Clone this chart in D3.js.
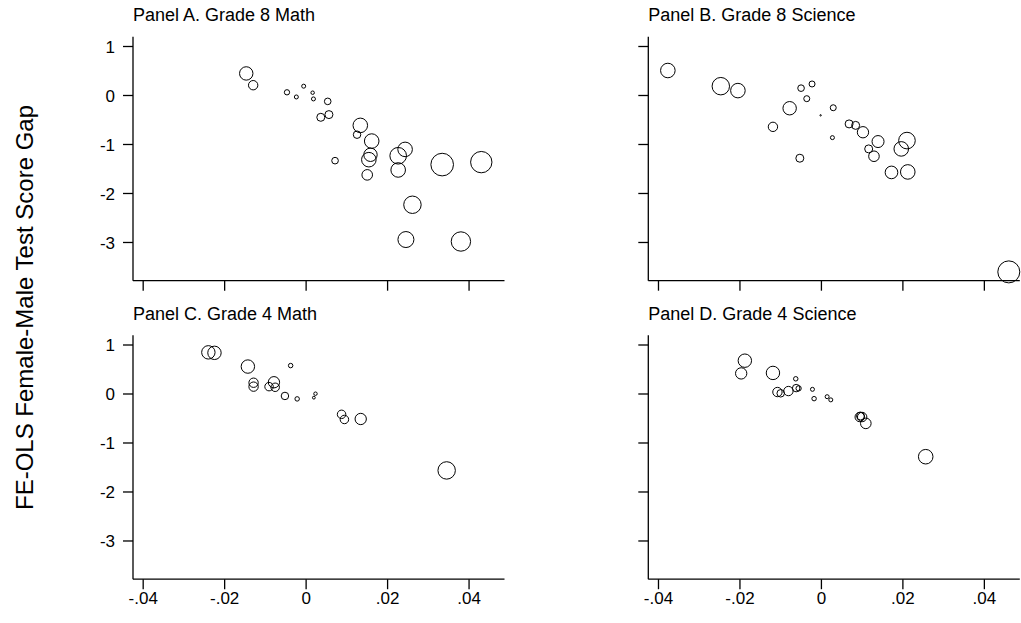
<!DOCTYPE html>
<html>
<head>
<meta charset="utf-8">
<script src="https://cdn.jsdelivr.net/npm/d3@7"></script>
<style>
  body { margin: 0; background: #fff; }
  svg text { font-family: "Liberation Sans", Arial, sans-serif; fill: #000; }
</style>
</head>
<body>
<div id="chart"></div>
<script>
// [share, gap, weight] per country
var panelA = [
  [-0.0147, 0.45, 45], [-0.0130, 0.21, 22], [-0.0047, 0.065, 7], [-0.0024, -0.03, 4],
  [-0.0006, 0.19, 4], [0.0016, 0.057, 3], [0.0018, -0.07, 4], [0.0053, -0.12, 11],
  [0.0056, -0.39, 16], [0.0036, -0.445, 16], [0.0133, -0.61, 53], [0.0125, -0.80, 14],
  [0.0071, -1.33, 11], [0.0161, -0.93, 53], [0.0158, -1.21, 45], [0.0154, -1.31, 53],
  [0.0150, -1.62, 28], [0.0226, -1.23, 69], [0.0243, -1.10, 53], [0.0226, -1.52, 53],
  [0.0334, -1.41, 128], [0.0430, -1.36, 114], [0.0261, -2.23, 76], [0.0245, -2.94, 64],
  [0.0380, -2.98, 94]
];
var panelB = [
  [-0.0377, 0.51, 53], [-0.0247, 0.19, 76], [-0.0205, 0.10, 53], [-0.0050, 0.15, 11],
  [-0.0023, 0.235, 9], [-0.0036, -0.065, 9], [-0.0078, -0.26, 45], [-0.0119, -0.64, 22],
  [-0.0002, -0.405, 0.5], [0.0029, -0.25, 9], [0.0027, -0.86, 4], [-0.0053, -1.28, 16],
  [0.0068, -0.58, 16], [0.0084, -0.61, 16], [0.0102, -0.75, 32], [0.0139, -0.94, 36],
  [0.0116, -1.09, 16], [0.0129, -1.24, 28], [0.0210, -0.92, 69], [0.0196, -1.09, 53],
  [0.0172, -1.57, 40], [0.0212, -1.56, 53], [0.0460, -3.60, 121]
];
var panelC = [
  [-0.0240, 0.85, 45], [-0.0225, 0.84, 45], [-0.0143, 0.56, 45], [-0.0038, 0.58, 5],
  [-0.0129, 0.23, 22], [-0.0129, 0.15, 22], [-0.0079, 0.24, 32], [-0.0091, 0.15, 18],
  [-0.0076, 0.137, 18], [-0.0052, -0.04, 14], [-0.0022, -0.10, 5], [0.0023, 0.006, 3],
  [0.0019, -0.075, 2], [0.0087, -0.415, 18], [0.0094, -0.52, 18], [0.0134, -0.51, 32],
  [0.0345, -1.56, 76]
];
var panelD = [
  [-0.0188, 0.68, 45], [-0.0197, 0.42, 32], [-0.0119, 0.43, 45], [-0.0063, 0.31, 5],
  [-0.0062, 0.12, 14], [-0.0056, 0.115, 7], [-0.0108, 0.04, 22], [-0.0100, 0.014, 14],
  [-0.0081, 0.06, 22], [-0.0022, 0.095, 4], [-0.0018, -0.095, 5], [0.0014, -0.055, 4],
  [0.0023, -0.12, 4], [0.0094, -0.47, 22], [0.0100, -0.47, 22], [0.0096, -0.45, 16],
  [0.0109, -0.60, 28], [0.0256, -1.28, 53]
];
var titles = ["Panel A. Grade 8 Math", "Panel B. Grade 8 Science",
              "Panel C. Grade 4 Math", "Panel D. Grade 4 Science"];
var xTicks = [-0.04, -0.02, 0, 0.02, 0.04];
var xTickLabels = ["-.04", "-.02", "0", ".02", ".04"];
var yTicks = [1, 0, -1, -2, -3];
var yTitle = "FE-OLS Female-Male Test Score Gap";

var svg = d3.select("#chart").append("svg")
    .attr("width", 1021)
    .attr("height", 623);

var pw = 371.5, ph = 244;
var colX = [133, 648.3], rowY = [36.7, 335.2];

var x = d3.scaleLinear().domain([-0.0425, 0.0487]).range([0, pw]);
var y = d3.scaleLinear().domain([-3.78, 1.2]).range([ph, 0]);
var r = d3.scaleSqrt().domain([0, 100]).range([0, 10]);

var panels = [panelA, panelB, panelC, panelD];

panels.forEach(function(pts, i) {
  var col = i % 2, row = Math.floor(i / 2);
  var g = svg.append("g")
      .attr("transform", "translate(" + colX[col] + "," + rowY[row] + ")");

  // panel title
  g.append("text")
      .attr("x", 0)
      .attr("y", -15.7)
      .style("font-size", "18px")
      .text(titles[i]);

  // y axis
  g.append("line")
      .attr("x1", 0).attr("x2", 0).attr("y1", 0).attr("y2", ph)
      .attr("stroke", "#000").attr("stroke-width", 1.3);
  g.selectAll(".yt").data(yTicks).enter().append("line")
      .attr("x1", -10).attr("x2", 0)
      .attr("y1", function(d) { return y(d); })
      .attr("y2", function(d) { return y(d); })
      .attr("stroke", "#000").attr("stroke-width", 1.3);
  if (col == 0) {
    g.selectAll(".yl").data(yTicks).enter().append("text")
        .attr("x", -18)
        .attr("y", function(d) { return y(d); })
        .attr("dy", "0.36em")
        .attr("text-anchor", "end")
        .style("font-size", "17px")
        .text(function(d) { return d; });
  }

  // x axis
  g.append("line")
      .attr("x1", 0).attr("x2", pw).attr("y1", ph).attr("y2", ph)
      .attr("stroke", "#000").attr("stroke-width", 1.3);
  g.selectAll(".xt").data(xTicks).enter().append("line")
      .attr("x1", function(d) { return x(d); })
      .attr("x2", function(d) { return x(d); })
      .attr("y1", ph).attr("y2", ph + 10)
      .attr("stroke", "#000").attr("stroke-width", 1.3);
  if (row == 1) {
    g.selectAll(".xl").data(xTicks).enter().append("text")
        .attr("x", function(d) { return x(d); })
        .attr("y", ph + 25)
        .attr("text-anchor", "middle")
        .style("font-size", "17px")
        .text(function(d, j) { return xTickLabels[j]; });
  }

  // weighted circles
  g.selectAll("circle").data(pts).enter().append("circle")
      .attr("cx", function(d) { return x(d[0]); })
      .attr("cy", function(d) { return y(d[1]); })
      .attr("r", function(d) { return r(d[2]); })
      .attr("fill", "none")
      .attr("stroke", "#000")
      .attr("stroke-width", 1);
});

// shared y title
svg.append("text")
    .attr("transform", "translate(33,307.5) rotate(-90)")
    .attr("text-anchor", "middle")
    .style("font-size", "24px")
    .text(yTitle);
</script>
</body>
</html>
